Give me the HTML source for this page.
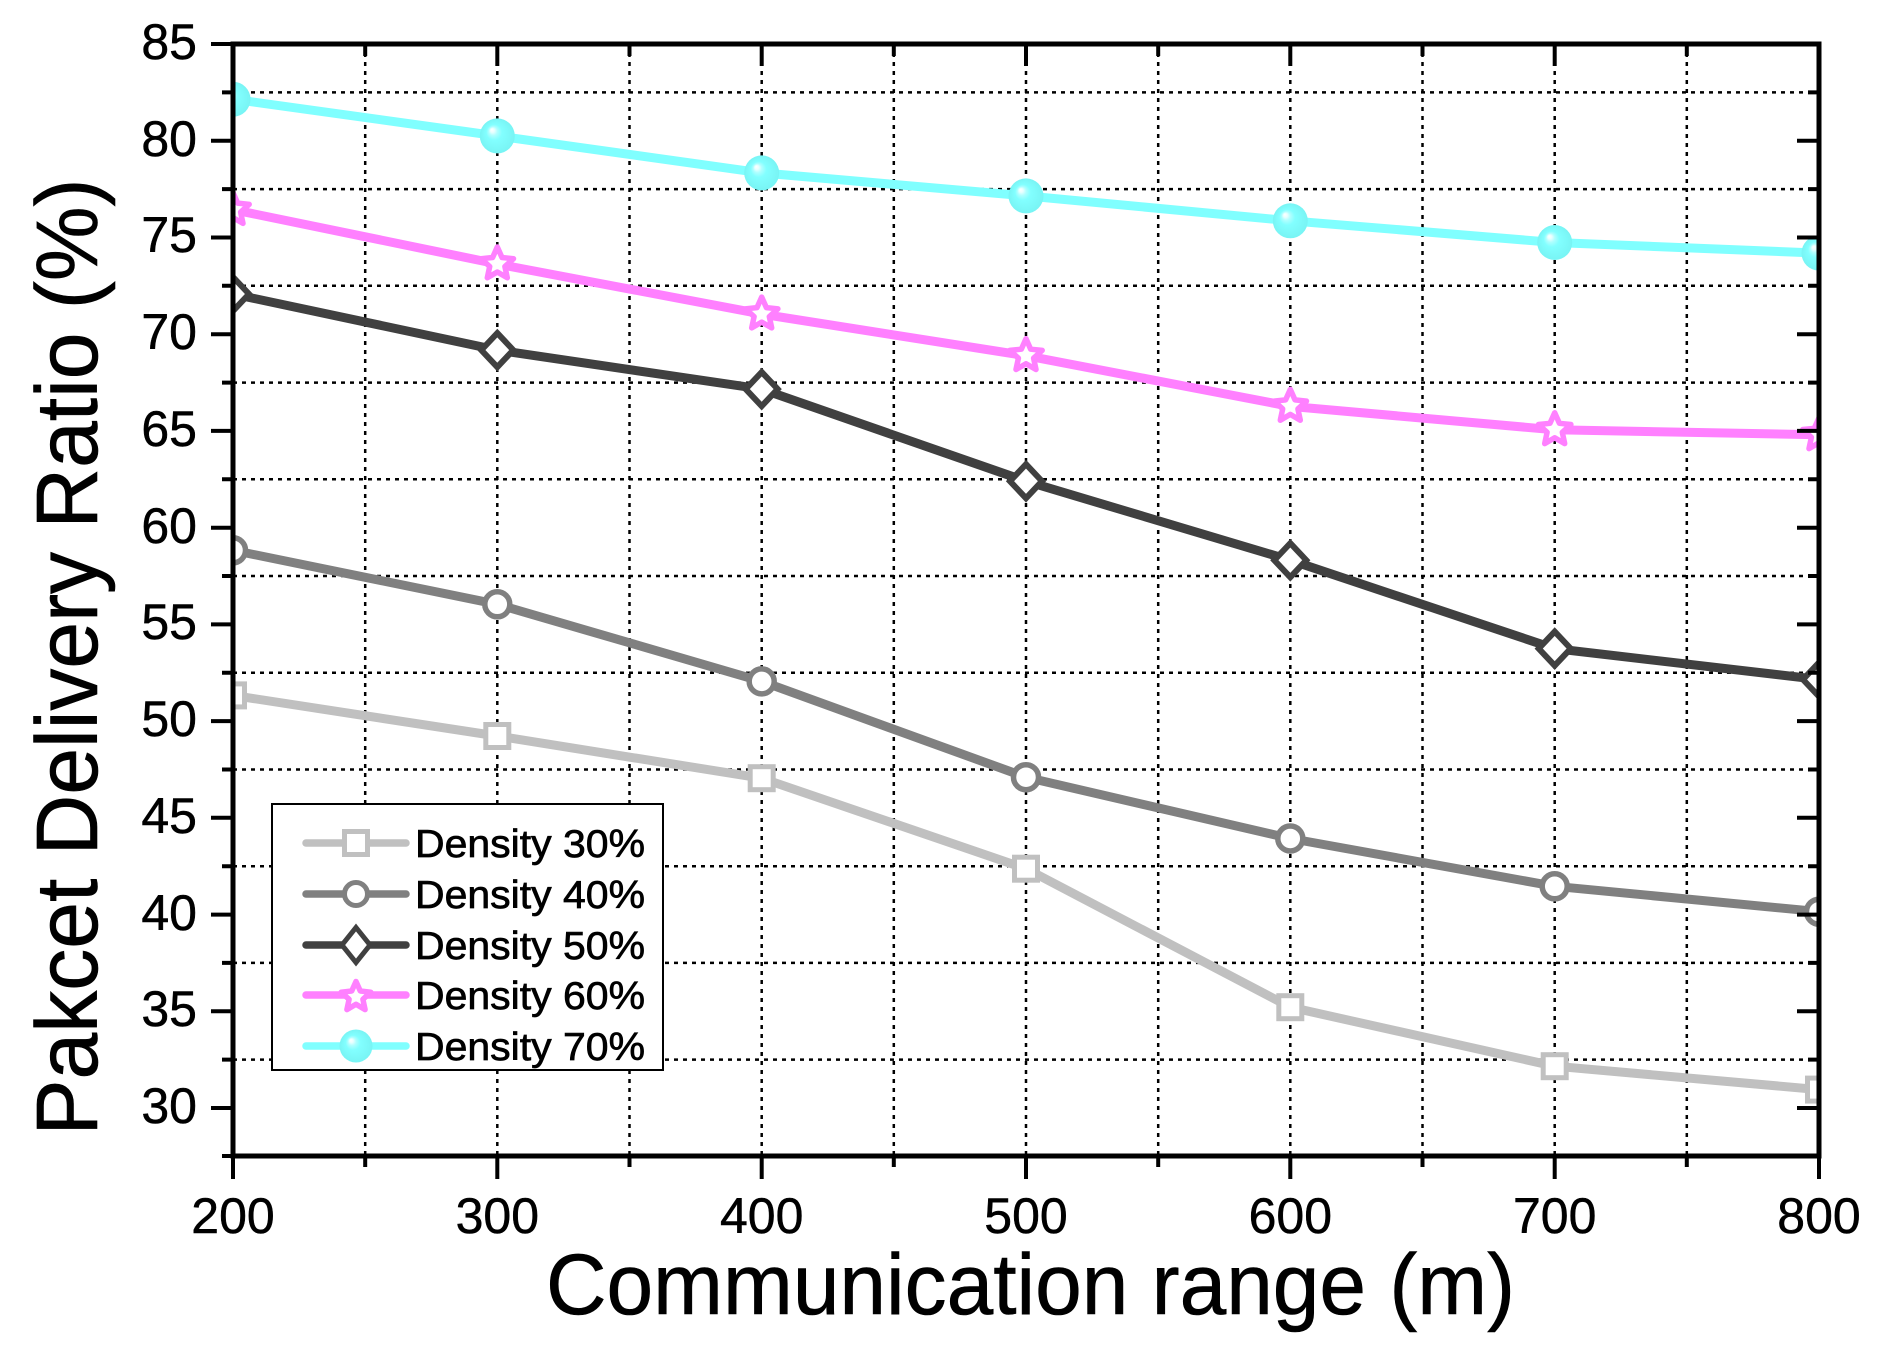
<!DOCTYPE html>
<html>
<head>
<meta charset="utf-8">
<style>
html,body{margin:0;padding:0;background:#fff;}
svg{display:block;}
text{font-family:"Liberation Sans",Arial,sans-serif;fill:#000;}
</style>
</head>
<body>
<svg width="1879" height="1358" viewBox="0 0 1879 1358" xmlns="http://www.w3.org/2000/svg">
<defs>
<clipPath id="plot"><rect x="233" y="44" width="1586" height="1112"/></clipPath>
<radialGradient id="sph" cx="0.5" cy="0.5" r="0.5" fx="0.34" fy="0.32">
<stop offset="0" stop-color="#ffffff"/>
<stop offset="0.12" stop-color="#e8ffff"/>
<stop offset="0.25" stop-color="#b0ffff"/>
<stop offset="0.45" stop-color="#82ffff"/>
<stop offset="1" stop-color="#78f4f4"/>
</radialGradient>
<polygon id="star" points="0,-17 4.7,-6.5 16.2,-5.3 7.6,2.5 10,13.8 0,8 -10,13.8 -7.6,2.5 -16.2,-5.3 -4.7,-6.5" fill="#fff" stroke="#ff80ff" stroke-width="5.5" stroke-linejoin="round"/>
<polygon id="starL" points="0,-15.5 4.3,-6 14.8,-4.8 6.9,2.3 9.1,12.6 0,7.3 -9.1,12.6 -6.9,2.3 -14.8,-4.8 -4.3,-6" fill="#fff" stroke="#ff80ff" stroke-width="5.5" stroke-linejoin="round"/>
<rect id="sq" x="-11.5" y="-11.5" width="23" height="23" fill="#fff" stroke="#c0c0c0" stroke-width="5"/>
<circle id="ci" r="12.5" fill="#fff" stroke="#808080" stroke-width="5.5"/>
<polygon id="di" points="0,-17 16,0 0,17 -16,0" fill="#fff" stroke="#404040" stroke-width="6"/>
<circle id="sp" r="17.5" fill="url(#sph)"/>
</defs>

<rect x="0" y="0" width="1879" height="1358" fill="#fff"/>

<g stroke="#000" stroke-width="2.5" stroke-dasharray="4 5" fill="none">
<line x1="233" y1="1059.6" x2="1819" y2="1059.6"/>
<line x1="233" y1="962.9" x2="1819" y2="962.9"/>
<line x1="233" y1="866.2" x2="1819" y2="866.2"/>
<line x1="233" y1="769.5" x2="1819" y2="769.5"/>
<line x1="233" y1="672.7" x2="1819" y2="672.7"/>
<line x1="233" y1="576.0" x2="1819" y2="576.0"/>
<line x1="233" y1="479.3" x2="1819" y2="479.3"/>
<line x1="233" y1="382.6" x2="1819" y2="382.6"/>
<line x1="233" y1="285.8" x2="1819" y2="285.8"/>
<line x1="233" y1="189.1" x2="1819" y2="189.1"/>
<line x1="233" y1="92.4" x2="1819" y2="92.4"/>
<line x1="365.2" y1="44" x2="365.2" y2="1156"/>
<line x1="497.3" y1="44" x2="497.3" y2="1156"/>
<line x1="629.5" y1="44" x2="629.5" y2="1156"/>
<line x1="761.7" y1="44" x2="761.7" y2="1156"/>
<line x1="893.8" y1="44" x2="893.8" y2="1156"/>
<line x1="1026" y1="44" x2="1026" y2="1156"/>
<line x1="1158.2" y1="44" x2="1158.2" y2="1156"/>
<line x1="1290.3" y1="44" x2="1290.3" y2="1156"/>
<line x1="1422.5" y1="44" x2="1422.5" y2="1156"/>
<line x1="1554.7" y1="44" x2="1554.7" y2="1156"/>
<line x1="1686.8" y1="44" x2="1686.8" y2="1156"/>
</g>

<g clip-path="url(#plot)" fill="none" stroke-width="9" stroke-linejoin="round" stroke-linecap="round">
<polyline stroke="#c0c0c0" points="233,695.4 497.3,736.0 761.7,778.2 1026,868.7 1290.3,1007.2 1554.7,1066.2 1819,1089.6"/>
<polyline stroke="#808080" points="233,550.3 497.3,604.3 761.7,681.4 1026,777.2 1290.3,838.5 1554.7,886.3 1819,911.7"/>
<polyline stroke="#404040" points="233,294.0 497.3,350.1 761.7,389.1 1026,481.2 1290.3,560.2 1554.7,648.6 1819,679.5"/>
<polyline stroke="#ff80ff" points="233,209.6 497.3,264.0 761.7,314.1 1026,355.7 1290.3,406.4 1554.7,429.8 1819,434.8"/>
<polyline stroke="#80ffff" points="233,99.2 497.3,135.9 761.7,172.9 1026,195.9 1290.3,220.8 1554.7,242.5 1819,253.1"/>
</g>

<g clip-path="url(#plot)">
<use href="#sq" x="233" y="695.4"/>
<use href="#sq" x="497.3" y="736.0"/>
<use href="#sq" x="761.7" y="778.2"/>
<use href="#sq" x="1026" y="868.7"/>
<use href="#sq" x="1290.3" y="1007.2"/>
<use href="#sq" x="1554.7" y="1066.2"/>
<use href="#sq" x="1819" y="1089.6"/>
<use href="#ci" x="233" y="550.3"/>
<use href="#ci" x="497.3" y="604.3"/>
<use href="#ci" x="761.7" y="681.4"/>
<use href="#ci" x="1026" y="777.2"/>
<use href="#ci" x="1290.3" y="838.5"/>
<use href="#ci" x="1554.7" y="886.3"/>
<use href="#ci" x="1819" y="911.7"/>
<use href="#di" x="233" y="294.0"/>
<use href="#di" x="497.3" y="350.1"/>
<use href="#di" x="761.7" y="389.1"/>
<use href="#di" x="1026" y="481.2"/>
<use href="#di" x="1290.3" y="560.2"/>
<use href="#di" x="1554.7" y="648.6"/>
<use href="#di" x="1819" y="679.5"/>
<use href="#star" x="233" y="209.6"/>
<use href="#star" x="497.3" y="264.0"/>
<use href="#star" x="761.7" y="314.1"/>
<use href="#star" x="1026" y="355.7"/>
<use href="#star" x="1290.3" y="406.4"/>
<use href="#star" x="1554.7" y="429.8"/>
<use href="#star" x="1819" y="434.8"/>
<use href="#sp" x="233" y="99.2"/>
<use href="#sp" x="497.3" y="135.9"/>
<use href="#sp" x="761.7" y="172.9"/>
<use href="#sp" x="1026" y="195.9"/>
<use href="#sp" x="1290.3" y="220.8"/>
<use href="#sp" x="1554.7" y="242.5"/>
<use href="#sp" x="1819" y="253.1"/>
</g>

<rect x="272" y="804" width="391" height="266" fill="#fff" stroke="#000" stroke-width="2"/>
<g stroke-width="7.5" stroke-linecap="round">
<line x1="306" y1="843" x2="406" y2="843" stroke="#c0c0c0"/>
<line x1="306" y1="894" x2="406" y2="894" stroke="#808080"/>
<line x1="306" y1="945" x2="406" y2="945" stroke="#404040"/>
<line x1="306" y1="995" x2="406" y2="995" stroke="#ff80ff"/>
<line x1="306" y1="1046" x2="406" y2="1046" stroke="#80ffff"/>
</g>
<use href="#sq" x="356" y="843"/>
<circle cx="356" cy="894" r="11.5" fill="#fff" stroke="#808080" stroke-width="5"/>
<polygon points="356,927.5 370,945 356,962.5 342,945" fill="#fff" stroke="#404040" stroke-width="5"/>
<use href="#starL" x="356" y="997"/>
<circle cx="356" cy="1046" r="16.5" fill="url(#sph)"/>
<g font-size="39" stroke="#000" stroke-width="0.7">
<text x="415" y="857" textLength="230" lengthAdjust="spacingAndGlyphs">Density 30%</text>
<text x="415" y="908" textLength="230" lengthAdjust="spacingAndGlyphs">Density 40%</text>
<text x="415" y="959" textLength="230" lengthAdjust="spacingAndGlyphs">Density 50%</text>
<text x="415" y="1009" textLength="230" lengthAdjust="spacingAndGlyphs">Density 60%</text>
<text x="415" y="1060" textLength="230" lengthAdjust="spacingAndGlyphs">Density 70%</text>
</g>

<rect x="233" y="44" width="1586" height="1112" fill="none" stroke="#000" stroke-width="5"/>
<path stroke="#000" stroke-width="4" fill="none" d="
M211,44H233 M211,140.8H233 M211,237.5H233 M211,334.2H233 M211,430.9H233 M211,527.7H233
M211,624.4H233 M211,721.1H233 M211,817.8H233 M211,914.6H233 M211,1011.3H233 M211,1108H233
M222,92.4H233 M222,189.1H233 M222,285.8H233 M222,382.6H233 M222,479.3H233 M222,576H233
M222,672.7H233 M222,769.5H233 M222,866.2H233 M222,962.9H233 M222,1059.6H233 M222,1156H233
M1797,140.8H1819 M1797,237.5H1819 M1797,334.2H1819 M1797,430.9H1819 M1797,527.7H1819 M1797,624.4H1819
M1797,721.1H1819 M1797,817.8H1819 M1797,914.6H1819 M1797,1011.3H1819 M1797,1108H1819
M1808,92.4H1819 M1808,189.1H1819 M1808,285.8H1819 M1808,382.6H1819 M1808,479.3H1819 M1808,576H1819
M1808,672.7H1819 M1808,769.5H1819 M1808,866.2H1819 M1808,962.9H1819 M1808,1059.6H1819
M233,1156V1179 M497.3,1156V1179 M761.7,1156V1179 M1026,1156V1179 M1290.3,1156V1179 M1554.7,1156V1179 M1819,1156V1179
M365.2,1156V1167 M629.5,1156V1167 M893.8,1156V1167 M1158.2,1156V1167 M1422.5,1156V1167 M1686.8,1156V1167
M497.3,44V66 M761.7,44V66 M1026,44V66 M1290.3,44V66 M1554.7,44V66
M365.2,44V56 M629.5,44V56 M893.8,44V56 M1158.2,44V56 M1422.5,44V56 M1686.8,44V56"/>

<g font-size="50" text-anchor="end" stroke="#000" stroke-width="0.5">
<text x="197" y="59">85</text>
<text x="197" y="156">80</text>
<text x="197" y="252">75</text>
<text x="197" y="349">70</text>
<text x="197" y="446">65</text>
<text x="197" y="543">60</text>
<text x="197" y="639">55</text>
<text x="197" y="736">50</text>
<text x="197" y="833">45</text>
<text x="197" y="930">40</text>
<text x="197" y="1026">35</text>
<text x="197" y="1123">30</text>
</g>
<g font-size="50" text-anchor="middle" stroke="#000" stroke-width="0.5">
<text x="233" y="1233">200</text>
<text x="497.3" y="1233">300</text>
<text x="761.7" y="1233">400</text>
<text x="1026" y="1233">500</text>
<text x="1290.3" y="1233">600</text>
<text x="1554.7" y="1233">700</text>
<text x="1819" y="1233">800</text>
</g>

<text x="1030.5" y="1314" font-size="86" text-anchor="middle" textLength="969" lengthAdjust="spacingAndGlyphs" stroke="#000" stroke-width="0.6">Communication range (m)</text>
<text transform="translate(97,657) rotate(-90)" x="0" y="0" font-size="87" text-anchor="middle" textLength="957" lengthAdjust="spacingAndGlyphs" stroke="#000" stroke-width="0.6">Pakcet Delivery Ratio (%)</text>
</svg>
</body>
</html>
